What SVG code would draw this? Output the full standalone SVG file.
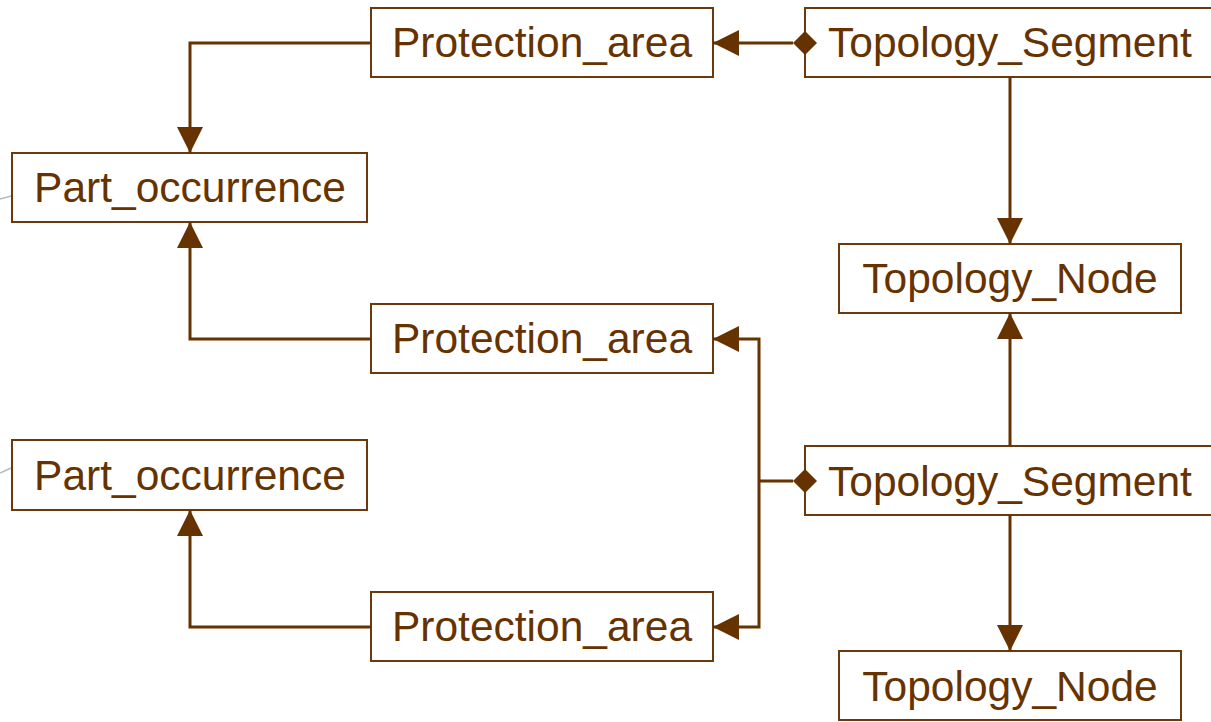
<svg xmlns="http://www.w3.org/2000/svg" width="1211" height="722" viewBox="0 0 1211 722">
  <style>
    .box { fill: #ffffff; stroke: #6b3a0c; stroke-width: 2; }
    .lbl { font-family: "Liberation Sans", Arial, sans-serif; font-size: 42.5px; fill: #663300; text-anchor: middle; }
    .wire { fill: none; stroke: #663300; stroke-width: 3; }
    .dia { fill: #663300; }
    .stub { fill: none; stroke: #b8b8b8; stroke-width: 1.5; }
  </style>
  <defs>
    <marker id="arrow" viewBox="0 0 26 26" refX="26" refY="13" markerWidth="26" markerHeight="26" markerUnits="userSpaceOnUse" orient="auto">
      <path d="M0,0 L26,13 L0,26 Z" fill="#663300"/>
    </marker>
  </defs>
  <rect width="1211" height="722" fill="#ffffff"/>

  <!-- faint stubs entering the Part_occurrence boxes from the left -->
  <path class="stub" d="M0,199 L11,196"/>
  <path class="stub" d="M0,473 L11,468"/>

  <g id="protection_area_1">
    <rect class="box" x="371" y="8" width="342" height="69"/>
    <text class="lbl" x="542" y="57">Protection_area</text>
  </g>
  <g id="topology_segment_1">
    <rect class="box" x="805" y="8" width="410" height="69"/>
    <text class="lbl" x="1010" y="57">Topology_Segment</text>
  </g>
  <g id="part_occurrence_1">
    <rect class="box" x="12" y="153" width="355" height="69"/>
    <text class="lbl" x="190" y="202">Part_occurrence</text>
  </g>
  <g id="topology_node_1">
    <rect class="box" x="839" y="244" width="342" height="69"/>
    <text class="lbl" x="1010" y="293">Topology_Node</text>
  </g>
  <g id="protection_area_2">
    <rect class="box" x="371" y="304" width="342" height="69"/>
    <text class="lbl" x="542" y="353">Protection_area</text>
  </g>
  <g id="part_occurrence_2">
    <rect class="box" x="12" y="440" width="355" height="70"/>
    <text class="lbl" x="190" y="490">Part_occurrence</text>
  </g>
  <g id="topology_segment_2">
    <rect class="box" x="805" y="446" width="410" height="69"/>
    <text class="lbl" x="1010" y="496">Topology_Segment</text>
  </g>
  <g id="protection_area_3">
    <rect class="box" x="371" y="592" width="342" height="69"/>
    <text class="lbl" x="542" y="641">Protection_area</text>
  </g>
  <g id="topology_node_2">
    <rect class="box" x="839" y="651" width="342" height="69"/>
    <text class="lbl" x="1010" y="701">Topology_Node</text>
  </g>

  <g id="connectors">
    <!-- Protection_area -> Part_occurrence -->
    <path class="wire" d="M371,43 H190 V153" marker-end="url(#arrow)"/>
    <path class="wire" d="M371,339 H190 V222" marker-end="url(#arrow)"/>
    <path class="wire" d="M371,627 H190 V510" marker-end="url(#arrow)"/>
    <!-- Topology_Segment aggregates Protection_area (diamond on the owner side) -->
    <path class="wire" d="M793,43 H713" marker-end="url(#arrow)"/>
    <path class="dia" d="M793,43 L805,31 L817,43 L805,55 Z"/>
    <path class="wire" d="M793,481 H759"/>
    <path class="wire" d="M759,481 V339 H713" marker-end="url(#arrow)"/>
    <path class="wire" d="M759,481 V627 H713" marker-end="url(#arrow)"/>
    <path class="dia" d="M793,481 L805,469 L817,481 L805,493 Z"/>
    <!-- Topology_Segment -> Topology_Node -->
    <path class="wire" d="M1010,77 V244" marker-end="url(#arrow)"/>
    <path class="wire" d="M1010,446 V313" marker-end="url(#arrow)"/>
    <path class="wire" d="M1010,515 V651" marker-end="url(#arrow)"/>
  </g>
</svg>
